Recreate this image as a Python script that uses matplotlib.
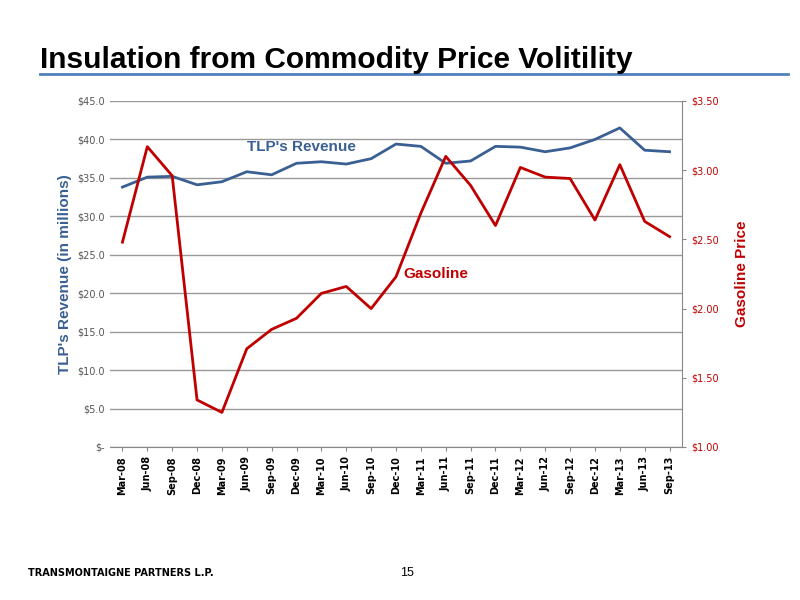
import matplotlib.pyplot as plt
from matplotlib.ticker import FuncFormatter

quarters = ["Mar-08", "Jun-08", "Sep-08", "Dec-08", "Mar-09", "Jun-09", "Sep-09", "Dec-09",
            "Mar-10", "Jun-10", "Sep-10", "Dec-10", "Mar-11", "Jun-11", "Sep-11", "Dec-11",
            "Mar-12", "Jun-12", "Sep-12", "Dec-12", "Mar-13", "Jun-13", "Sep-13"]
revenue = [33.8, 35.1, 35.2, 34.1, 34.5, 35.8, 35.4, 36.9, 37.1, 36.8, 37.5, 39.4,
           39.1, 36.9, 37.2, 39.1, 39.0, 38.4, 38.9, 40.0, 41.5, 38.6, 38.4]
gasoline = [2.48, 3.17, 2.96, 1.34, 1.25, 1.71, 1.85, 1.93, 2.11, 2.16, 2.00, 2.23,
            2.69, 3.10, 2.89, 2.60, 3.02, 2.95, 2.94, 2.64, 3.04, 2.63, 2.52]

blue = "#3a5f93"
red = "#c00000"

fig = plt.figure(figsize=(8, 6), dpi=100)
fig.text(0.05, 0.887, "Insulation from Commodity Price Volitility", fontsize=21.5,
         fontweight="bold", family="Liberation Sans")
fig.add_artist(plt.Line2D([0.05, 0.985], [0.877, 0.877], color="#4f81bd", lw=2))

ax = fig.add_axes([110 / 800, 1 - 447 / 600, 572 / 800, 346 / 600])
x = range(len(quarters))
ax.plot(x, revenue, color=blue, lw=2)
ax.set_ylim(0, 45)
ax.set_yticks(range(0, 46, 5))
ax.yaxis.set_major_formatter(FuncFormatter(lambda v, p: "$-" if v == 0 else f"${v:.1f}"))
ax.set_xlim(-0.5, len(quarters) - 0.5)
ax.set_xticks(list(x))
ax.set_xticklabels(quarters, rotation=90, fontsize=7, fontweight="bold")
ax.tick_params(axis="y", labelsize=7, colors="#555555", length=0)
ax.tick_params(axis="x", length=3, colors="#888888", labelcolor="black")
ax.grid(axis="y", color="#999999", lw=1)
ax.set_axisbelow(True)
for s in ["top", "right", "left"]:
    ax.spines[s].set_visible(False)
ax.spines["bottom"].set_color("#888888")
ax.set_ylabel("TLP's Revenue (in millions)", color=blue, fontsize=11, fontweight="bold",
              family="Liberation Sans")
ax.text(5, 38.5, "TLP's Revenue", color=blue, fontsize=11, fontweight="bold",
        family="Liberation Sans")

ax2 = ax.twinx()
ax2.plot(x, gasoline, color=red, lw=2)
ax2.set_ylim(1.0, 3.5)
ax2.set_yticks([1.0, 1.5, 2.0, 2.5, 3.0, 3.5])
ax2.yaxis.set_major_formatter(FuncFormatter(lambda v, p: f"${v:.2f}"))
ax2.tick_params(axis="y", labelsize=7, colors="#888888", labelcolor=red, length=3)
for s in ["top", "left", "bottom"]:
    ax2.spines[s].set_visible(False)
ax2.spines["right"].set_color("#888888")
ax2.set_ylabel("Gasoline Price", color=red, fontsize=11, fontweight="bold",
               family="Liberation Sans", labelpad=12)
ax2.text(11.3, 2.22, "Gasoline", color=red, fontsize=11, fontweight="bold",
         family="Liberation Sans")

fig.text(0.035, 0.04, "TRANSMONTAIGNE PARTNERS L.P.", fontsize=7, fontweight="bold")
fig.text(0.5, 0.04, "15", fontsize=9, family="Liberation Sans")

fig.savefig("out.png", dpi=100)
